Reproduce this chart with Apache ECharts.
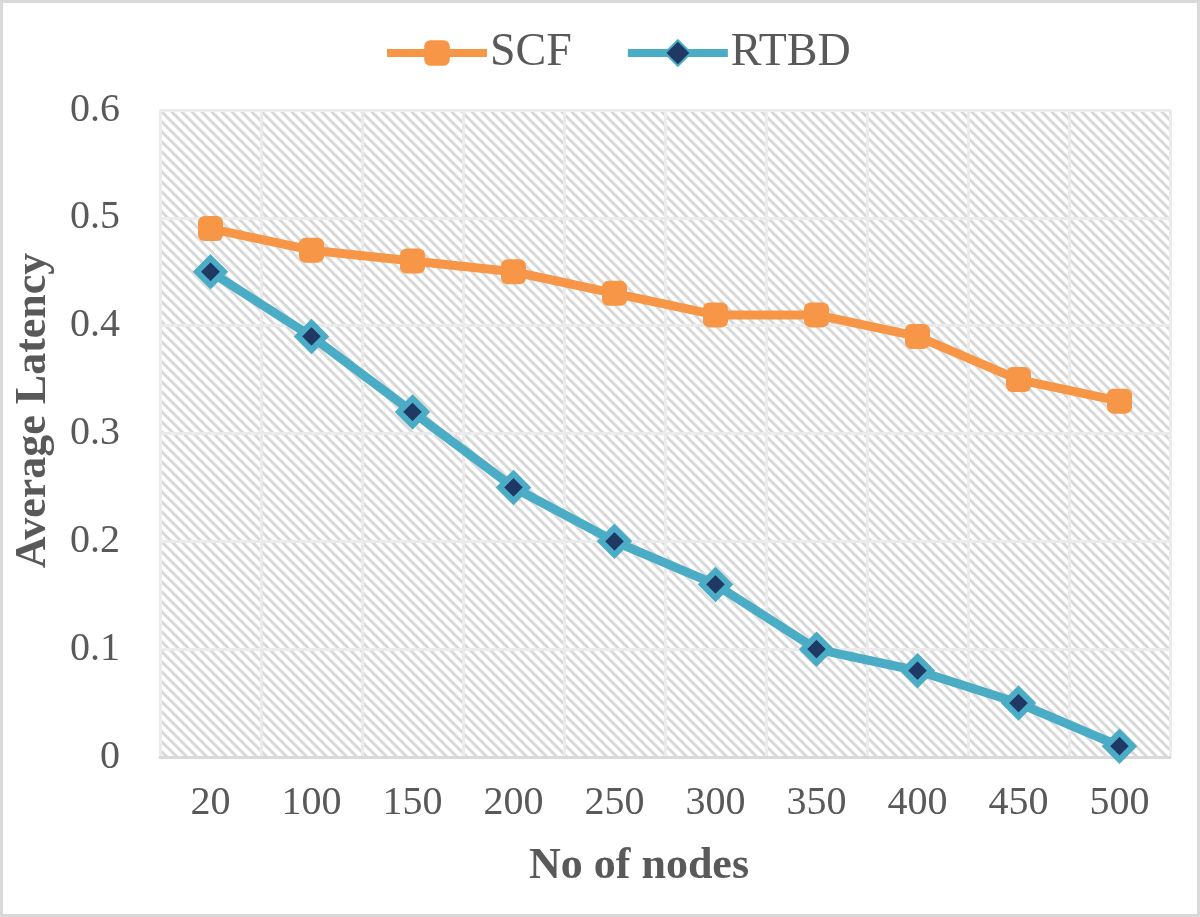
<!DOCTYPE html>
<html><head><meta charset="utf-8">
<script src="https://cdn.jsdelivr.net/npm/echarts@6/dist/echarts.min.js"></script>
<style>
html,body{margin:0;padding:0;background:#fff;}
#wrap{width:1200px;height:917px;box-sizing:border-box;border:3px solid #d9d9d9;position:relative;}
#c{position:absolute;left:-3px;top:-3px;width:1200px;height:917px;}
</style></head>
<body><div id="wrap"><div id="c"></div></div>
<script>
const categories = ['20','100','150','200','250','300','350','400','450','500'];
const scf = [0.49,0.47,0.46,0.45,0.43,0.41,0.41,0.39,0.35,0.33];
const rtbd = [0.45,0.39,0.32,0.25,0.20,0.16,0.10,0.08,0.05,0.01];
const yTicks = [0,0.1,0.2,0.3,0.4,0.5,0.6];

// hatch pattern
const T = 10;
const pc = document.createElement('canvas');
pc.width = T; pc.height = T;
const g = pc.getContext('2d');
g.fillStyle = '#ffffff'; g.fillRect(0,0,T,T);
g.strokeStyle = '#d8d8d8'; g.lineWidth = 3;
g.beginPath();
g.moveTo(-2,-2); g.lineTo(T+2,T+2);
g.moveTo(-T-2,-2); g.lineTo(2,T+2);
g.moveTo(T-2,-2); g.lineTo(2*T+2,T+2);
g.stroke();

const chart = echarts.init(document.getElementById('c'), null, {renderer:'canvas'});
const font = '"Liberation Serif", "Times New Roman", serif';
chart.setOption({
  animation:false,
  backgroundColor:'transparent',
  textStyle:{fontFamily:font},
  legend:{
    top:25, left:378, itemWidth:100, itemHeight:32, itemGap:52,
    lineStyle:{width:8},
    textStyle:{fontSize:46, color:'#595959', fontFamily:font, padding:[0,0,0,-2]},
    data:['SCF','RTBD']
  },
  grid:{left:160,right:30,top:110,bottom:160,show:true,
    backgroundColor:{image:pc, repeat:'repeat'}, borderWidth:0},
  xAxis:{
    type:'category', data:categories, boundaryGap:true,
    axisLine:{lineStyle:{color:'#d9d9d9',width:3}},
    axisTick:{show:false},
    axisLabel:{fontSize:40,color:'#595959',fontFamily:font,margin:26},
    splitLine:{show:true,lineStyle:{color:'#ebebeb',width:3}},
    name:'No of nodes', nameLocation:'middle', nameGap:88,
    nameTextStyle:{fontSize:44,fontWeight:'bold',color:'#595959',fontFamily:font,padding:[0,52,0,0]}
  },
  yAxis:{
    type:'value', min:yTicks[0], max:yTicks[yTicks.length-1], interval:0.1,
    axisLine:{show:false}, axisTick:{show:false},
    axisLabel:{fontSize:40,color:'#595959',fontFamily:font,margin:40,
      formatter:v=>String(Math.round(v*10)/10)},
    splitLine:{show:true,lineStyle:{color:'#ebebeb',width:3}},
    name:'Average Latency', nameLocation:'middle', nameGap:104,
    nameTextStyle:{fontSize:44,fontWeight:'bold',color:'#595959',fontFamily:font,padding:[0,0,0,46]}
  },
  series:[
    {name:'SCF',type:'line',data:scf,symbol:'roundRect',symbolSize:25,
     lineStyle:{color:'#f79646',width:9},itemStyle:{color:'#f79646'}},
    {name:'RTBD',type:'line',data:rtbd,symbol:'diamond',symbolSize:27,
     lineStyle:{color:'#4bacc6',width:9},
     itemStyle:{color:'#1f3864',borderColor:'#4bacc6',borderWidth:6}}
  ]
});
</script></body></html>
